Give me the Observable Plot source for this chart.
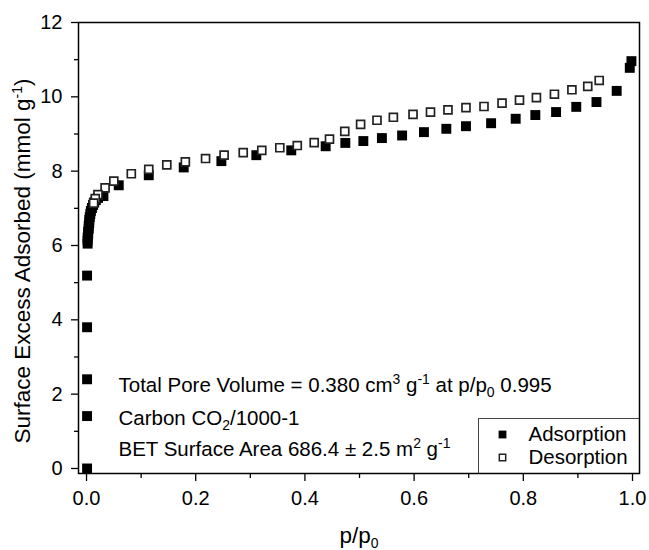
<!DOCTYPE html>
<html><head><meta charset="utf-8">
<script src="https://cdn.jsdelivr.net/npm/d3@7"></script>
<script src="https://cdn.jsdelivr.net/npm/@observablehq/plot@0.6"></script>
<style>body{margin:0;background:#fff}</style>
</head><body><div id="chart"></div>
<script>
// Adsorption branch (filled squares)
const adsP = [0.001,0.001,0.001,0.001,0.001,
  0.002,0.002,0.002,0.003,0.003,0.004,0.004,0.005,0.005,0.006,0.007,0.008,0.010,0.012,0.014,0.017,0.021,0.031,
  0.059,0.114,0.178,0.247,0.311,0.375,0.438,0.474,0.507,0.541,0.578,0.618,0.659,0.695,0.741,0.786,0.822,0.860,0.897,0.934,0.971,0.995,0.998];
const adsQ = [0.00,1.41,2.40,3.80,5.19,
  6.05,6.13,6.21,6.29,6.37,6.45,6.53,6.61,6.69,6.77,6.85,6.93,7.01,7.09,7.16,7.22,7.28,7.33,
  7.62,7.89,8.10,8.27,8.43,8.56,8.67,8.76,8.81,8.89,8.96,9.05,9.14,9.21,9.29,9.41,9.51,9.59,9.73,9.86,10.16,10.78,10.96];
// Desorption branch (open squares)
const desP = [0.939,0.918,0.889,0.857,0.824,0.793,0.761,0.728,0.695,0.662,0.630,0.598,0.562,0.532,0.502,0.473,0.445,0.417,0.386,0.354,0.321,0.287,0.252,0.218,0.181,0.147,0.114,0.082,0.050,0.034,0.021,0.016,0.013];
const desQ = [10.44,10.28,10.19,10.07,9.98,9.91,9.83,9.74,9.71,9.65,9.59,9.53,9.45,9.37,9.26,9.07,8.86,8.77,8.69,8.63,8.56,8.50,8.43,8.34,8.25,8.17,8.05,7.93,7.73,7.55,7.37,7.26,7.14];

const xTicks = [0, 0.2, 0.4, 0.6, 0.8, 1.0];
const xMinor = [0.1, 0.3, 0.5, 0.7, 0.9];
const yTicks = [0, 2, 4, 6, 8, 10, 12];
const yMinor = [1, 3, 5, 7, 9, 11];
const seriesNames = ["Adsorption", "Desorption"];
const annotations = ["Total Pore Volume = 0.380 cm^3 g^-1 at p/p_0 0.995", "Carbon CO_2/1000-1", "BET Surface Area 686.4 ± 2.5 m^2 g^-1"];
const xLabel = "p/p_0";
const yLabel = "Surface Excess Adsorbed (mmol g^-1)";

const ads = adsP.map((p, i) => ({p, q: adsQ[i]}));
const des = desP.map((p, i) => ({p, q: desQ[i]}));

const annDy = [-88, -55, -24];
const FS = 20.5;
const TFS = 22.5;

const plot = Plot.plot({
  width: 649, height: 550,
  marginLeft: 78, marginRight: 10, marginTop: 22, marginBottom: 77,
  x: {domain: [-0.0147, 1.0128]},
  y: {domain: [-0.135, 12]},
  style: {fontFamily: "'Liberation Sans', Arial, sans-serif", fontSize: "20px", color: "#000", background: "#fff"},
  marks: [
    Plot.dot(ads, {x: "p", y: "q", symbol: "square", r: 5.6, fill: "#000", stroke: "none"}),
    Plot.dot(des, {x: "p", y: "q", symbol: "square", r: 4.5, fill: "#fff", stroke: "#222", strokeWidth: 1.7}),
    Plot.frame({insetLeft: 400, insetTop: 396, stroke: "#444", strokeWidth: 1, fill: "#fff"}),
    Plot.frame({stroke: "#000", strokeWidth: 1.5}),
    Plot.axisX({ticks: xTicks, tickFormat: d3.format(".1f"), tickSize: 8, tickPadding: 9, strokeWidth: 1.3, label: null, fontSize: 20}),
    Plot.axisX({ticks: xMinor, tickSize: 5, strokeWidth: 1.3, fill: "none", label: null}),
    Plot.axisY({ticks: yTicks, tickFormat: d3.format("d"), tickSize: 7, tickPadding: 9, strokeWidth: 1.3, label: null, fontSize: 20}),
    Plot.axisY({ticks: yMinor, tickSize: 4, strokeWidth: 1.3, fill: "none", label: null}),
    ...annotations.map((t, i) => Plot.text([t], {text: d => d, frameAnchor: "bottom-left", dx: 40, dy: annDy[i], textAnchor: "start", lineAnchor: "middle", fontSize: FS, fill: "#000"})),
    Plot.dot([seriesNames[0]], {frameAnchor: "bottom-right", dx: -137, dy: -39, symbol: "square", r: 4.4, fill: "#000"}),
    Plot.dot([seriesNames[1]], {frameAnchor: "bottom-right", dx: -137, dy: -16, symbol: "square", r: 3.6, fill: "#fff", stroke: "#222", strokeWidth: 1.5}),
    Plot.text([seriesNames[0]], {text: d => d, frameAnchor: "bottom-right", dx: -111, dy: -39, textAnchor: "start", lineAnchor: "middle", fontSize: FS, fill: "#000"}),
    Plot.text([seriesNames[1]], {text: d => d, frameAnchor: "bottom-right", dx: -111, dy: -16, textAnchor: "start", lineAnchor: "middle", fontSize: FS, fill: "#000"}),
    Plot.text([xLabel], {text: d => d, frameAnchor: "bottom", dy: 62, textAnchor: "middle", lineAnchor: "middle", fontSize: TFS, fill: "#000"}),
    Plot.text([yLabel], {text: d => d, frameAnchor: "left", dx: -56, dy: 13, rotate: -90, textAnchor: "middle", lineAnchor: "middle", fontSize: TFS, fill: "#000"})
  ]
});

// Turn ^n / _n markup into real superscript/subscript tspans
const NS = "http://www.w3.org/2000/svg";
plot.querySelectorAll("text").forEach(el => {
  const s = el.textContent;
  if (!/(\^-?\d+|_\d+)/.test(s)) return;
  const fs = parseFloat(getComputedStyle(el).fontSize) || FS;
  const parts = s.split(/(\^-?\d+|_\d+)/).filter(x => x !== "");
  while (el.firstChild) el.removeChild(el.firstChild);
  let shift = 0;
  parts.forEach(part => {
    const t = document.createElementNS(NS, "tspan");
    let target = 0;
    if (part[0] === "^") { target = -0.38 * fs; t.textContent = part.slice(1); t.setAttribute("font-size", (fs * 0.68) + "px"); }
    else if (part[0] === "_") { target = 0.24 * fs; t.textContent = part.slice(1); t.setAttribute("font-size", (fs * 0.68) + "px"); }
    else { t.textContent = part; }
    const d = target - shift;
    if (d !== 0) t.setAttribute("dy", d + "px");
    shift = target;
    el.appendChild(t);
  });
});

document.getElementById("chart").appendChild(plot);
</script>
</body></html>
